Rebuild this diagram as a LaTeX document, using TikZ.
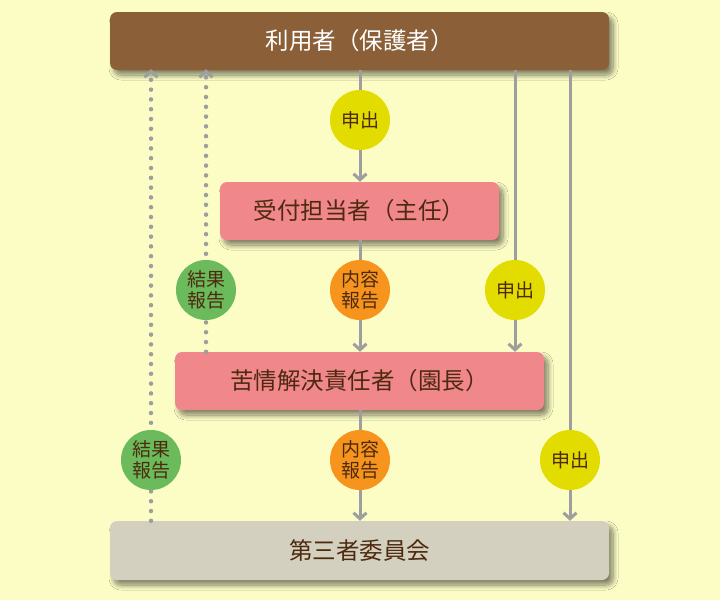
\documentclass[tikz,border=0pt]{standalone}
\usepackage{fontspec}
\newfontfamily\jp{Noto Sans CJK JP}
\usetikzlibrary{arrows.meta,shadows.blur}
\definecolor{bgc}{HTML}{FBFDC5}
\definecolor{brownbox}{HTML}{8B6038}
\definecolor{pinkbox}{HTML}{F0878A}
\definecolor{graybox}{HTML}{D4D0C0}
\definecolor{yelc}{HTML}{E3DC00}
\definecolor{grnc}{HTML}{6BBA5B}
\definecolor{orgc}{HTML}{F7941E}
\definecolor{linec}{HTML}{9E9E9E}
\definecolor{txtc}{HTML}{4D2A0F}
\begin{document}
\begin{tikzpicture}[x=1pt,y=-1pt,
  boxstyle/.style={rounded corners=7pt, minimum height=58pt, inner sep=0pt,
    font=\jp\fontsize{23.5}{27}\selectfont, text=txtc,
    blur shadow={shadow xshift=4pt, shadow yshift=-5pt, shadow blur steps=10, shadow blur radius=5pt, shadow opacity=50}},
  badge/.style={circle, minimum size=60pt, inner sep=0pt, align=center,
    font=\jp\fontsize{19}{21}\selectfont, text=txtc},
  arr/.style={draw=linec, line width=3pt, -{Straight Barb[length=6pt,width=13pt,line width=3pt]}},
  dots/.style={draw=linec, line width=4.5pt, line cap=round, dash pattern=on 0pt off 9.8pt,
    -{Straight Barb[length=6pt,width=13pt,line width=3pt]}}]
\fill[bgc] (0,0) rectangle (720,600);
\useasboundingbox (0,0) rectangle (720,600);
\coordinate (c1) at (360,120);
\coordinate (c2) at (206,290);
\coordinate (c3) at (360,290);
\coordinate (c4) at (515,290);
\coordinate (c5) at (151,460);
\coordinate (c6) at (360,460);
\coordinate (c7) at (570,460);
\node[boxstyle, fill=brownbox, text=white, minimum width=499pt] (top) at (359.5,41) {利用者（保護者）};
\node[boxstyle, fill=pinkbox, minimum width=279pt] (uke) at (359.5,211) {受付担当者（主任）};
\node[boxstyle, fill=pinkbox, minimum width=369pt] (seki) at (359.5,381) {苦情解決責任者（園長）};
\node[boxstyle, fill=graybox, minimum width=499pt, minimum height=59pt] (dai) at (359.5,550.5) {第三者委員会};
% connectors
\draw[arr] (top.south -| c1) -- (uke.north -| c1);
\draw[arr] (uke.south -| c3) -- (seki.north -| c3);
\draw[arr] (seki.south -| c6) -- (dai.north -| c6);
\draw[arr] (top.south -| c4) -- (seki.north -| c4);
\draw[arr] (top.south -| c7) -- (dai.north -| c7);
\draw[dots] (seki.north -| c2) -- ([yshift=1pt]top.south -| c2);
\draw[dots] (dai.north -| c5) -- ([yshift=1pt]top.south -| c5);
% badges
\node[badge, fill=yelc] (m1) at (c1) {申出};
\node[badge, fill=grnc] (k1) at (c2) {結果\\報告};
\node[badge, fill=orgc] (n1) at (c3) {内容\\報告};
\node[badge, fill=yelc] (m2) at (c4) {申出};
\node[badge, fill=grnc] (k2) at (c5) {結果\\報告};
\node[badge, fill=orgc] (n2) at (c6) {内容\\報告};
\node[badge, fill=yelc] (m3) at (c7) {申出};
\end{tikzpicture}
\end{document}
